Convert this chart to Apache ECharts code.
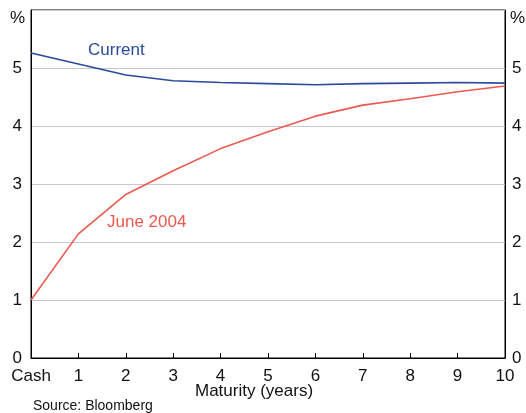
<!DOCTYPE html>
<html>
<head>
<meta charset="utf-8">
<script src="https://cdn.jsdelivr.net/npm/echarts@6/dist/echarts.min.js"></script>
<style>
  html, body { margin: 0; padding: 0; background: #fff; }
  #chart { width: 526px; height: 413px; }
</style>
</head>
<body>
<div id="chart"></div>
<script>
// maturity in years, 0 = cash rate
var maturities = [0, 1, 2, 3, 4, 5, 6, 7, 8, 9, 10]
var current = [5.26, 5.07, 4.88, 4.78, 4.75, 4.73, 4.71, 4.73, 4.74, 4.75, 4.74]
var june2004 = [1.0, 2.14, 2.82, 3.23, 3.61, 3.90, 4.17, 4.36, 4.47, 4.59, 4.69]
var yTicks = [0, 1, 2, 3, 4, 5]

var chart = echarts.init(document.getElementById('chart'), null, { renderer: 'canvas' })

var font = 'Liberation Sans, Arial, sans-serif'
var blue = '#2b4a9c'
var red = '#ea5a50'

function pairs(vals) {
  return maturities.map(function (m, i) { return [m, vals[i]] })
}

var yLabel = {
  color: '#111',
  fontSize: 17,
  fontFamily: font,
  formatter: function (v) { return yTicks.indexOf(v) >= 0 ? String(v) : '' }
}

chart.setOption({
  animation: false,
  grid: {
    left: 31, right: 21, top: 10, bottom: 55,
    show: true, borderColor: '#000', borderWidth: 1
  },
  xAxis: {
    type: 'value',
    min: 0, max: 10, interval: 1,
    axisLine: { show: true, lineStyle: { color: '#000', width: 1 } },
    axisTick: { show: true, inside: true, length: 5, lineStyle: { color: '#000' } },
    splitLine: { show: false },
    axisLabel: {
      color: '#111', fontSize: 17, fontFamily: font, margin: 10,
      formatter: function (v) { return v === 0 ? 'Cash' : String(v) }
    }
  },
  yAxis: [{
    type: 'value', min: 0, max: 6, interval: 1,
    position: 'left',
    axisLine: { show: true, lineStyle: { color: '#000' } },
    axisTick: { show: false },
    splitLine: { show: true, lineStyle: { color: '#c6c8cc', width: 1 } },
    axisLabel: Object.assign({ margin: 9 }, yLabel)
  }, {
    type: 'value', min: 0, max: 6, interval: 1,
    position: 'right',
    axisLine: { show: true, lineStyle: { color: '#000' } },
    axisTick: { show: false },
    splitLine: { show: false },
    axisLabel: Object.assign({ margin: 7 }, yLabel)
  }],
  series: [{
    name: 'Current',
    type: 'line',
    data: pairs(current),
    symbol: 'none',
    lineStyle: { color: blue, width: 1.6 }
  }, {
    name: 'June 2004',
    type: 'line',
    data: pairs(june2004),
    symbol: 'none',
    lineStyle: { color: red, width: 1.6 }
  }],
  graphic: [
    { type: 'text', left: 10, top: 10, style: { text: '%', fill: '#111', font: '17px ' + font } },
    { type: 'text', left: 510, top: 10, style: { text: '%', fill: '#111', font: '17px ' + font } },
    { type: 'text', left: 88, top: 42, style: { text: 'Current', fill: blue, font: '17px ' + font } },
    { type: 'text', left: 107, top: 214, style: { text: 'June 2004', fill: red, font: '17px ' + font } },
    { type: 'text', left: 195, top: 383, style: { text: 'Maturity (years)', fill: '#111', font: '17px ' + font } },
    { type: 'text', left: 33, top: 399, style: { text: 'Source: Bloomberg', fill: '#111', font: '14px ' + font } }
  ]
})
</script>
</body>
</html>
